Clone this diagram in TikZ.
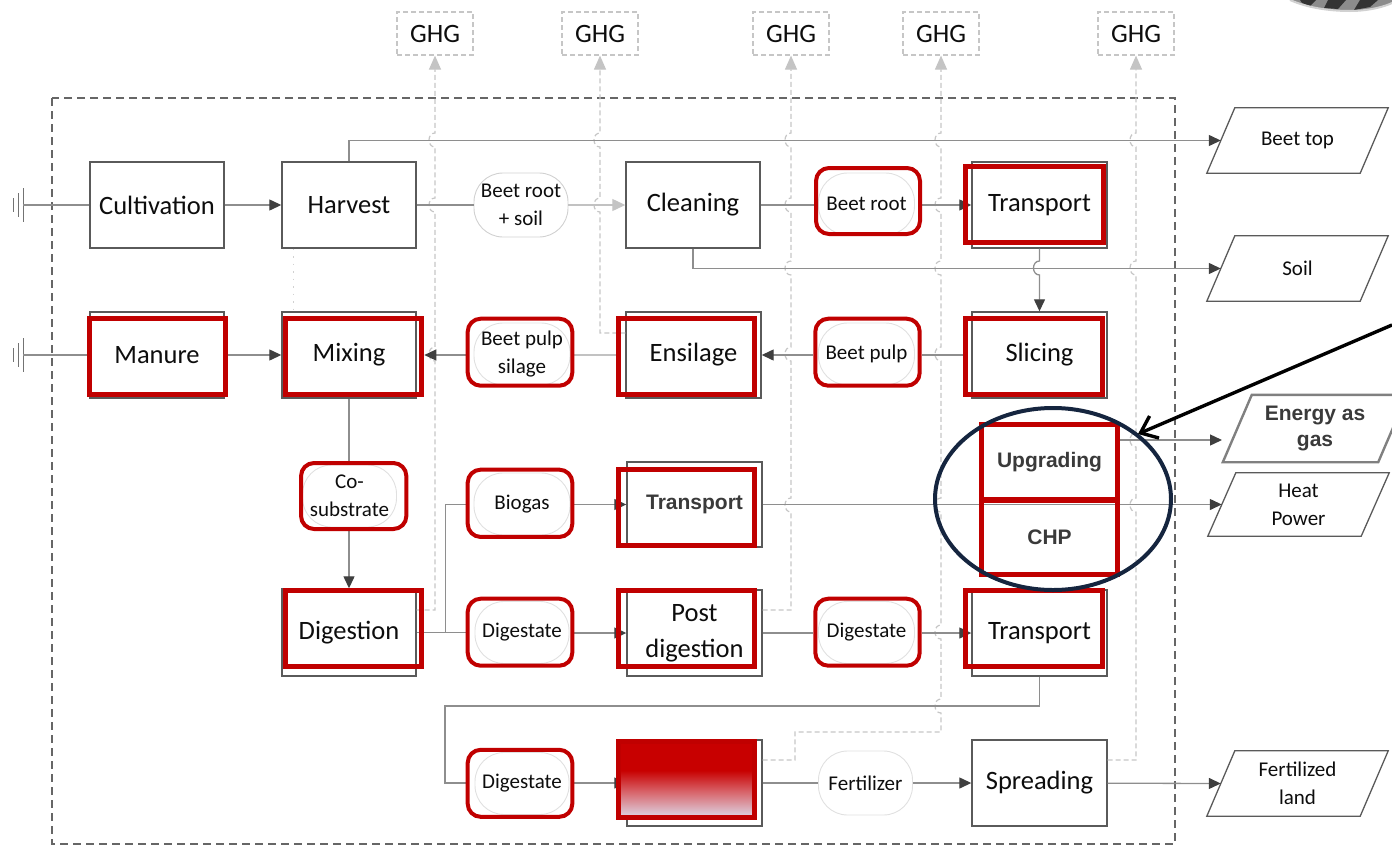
\documentclass[tikz,border=0pt]{standalone}
\usepackage{fontspec}
\setmainfont{Carlito}
\newfontfamily\arialfont{Liberation Sans}
\usetikzlibrary{arrows.meta,calc}

\definecolor{redframe}{HTML}{C00000}
\definecolor{boxline}{HTML}{5A5A5A}
\definecolor{conline}{HTML}{8E8E8E}
\definecolor{lightline}{HTML}{C2C2C2}
\definecolor{tipcol}{HTML}{3F3F3F}
\definecolor{ghgedge}{HTML}{C6C6C6}
\definecolor{ghgtip}{HTML}{C4C4C4}
\definecolor{pillline}{HTML}{E0E0E0}
\definecolor{navy}{HTML}{15253F}
\definecolor{labelgray}{HTML}{3A3A3A}
\definecolor{fadetop}{HTML}{C80000}
\definecolor{fademid}{HTML}{D8646A}
\definecolor{fadebot}{HTML}{DDD8E8}

\pgfdeclareverticalshading{redfade}{100bp}{color(0bp)=(fadebot); color(25bp)=(fadebot); color(42bp)=(fademid); color(56bp)=(fadetop); color(75bp)=(fadetop); color(100bp)=(fadetop)}

\pgfdeclarelayer{front}
\pgfsetlayers{main,front}

\newcommand\bigtxt{\fontsize{26.5}{36}\selectfont}
\newcommand\smalltxt{\fontsize{21}{28}\selectfont}
\newcommand\boldtxt{\arialfont\bfseries\fontsize{21}{26}\selectfont}

% outline of a slanted output box around a named node
\newcommand\slantoutline[3]{%
  \draw[#3] ([xshift=-#2]#1.south west) -- ([xshift=#2]#1.north west)
    -- ([xshift=#2]#1.north east) -- ([xshift=-#2]#1.south east) -- cycle;}

\tikzset{
  gbox/.style={draw=boxline, line width=1.4pt, fill=white, minimum width=134pt,
    minimum height=86pt, inner sep=0pt, font=\bigtxt, text=black!95, align=center},
  rbox/.style={draw=redframe, line width=5pt, inner sep=0pt},
  lpill/.style={draw=pillline, line width=0.9pt, rounded corners=29pt, minimum width=95pt,
    minimum height=62pt, inner sep=0pt, font=\smalltxt, text=black!95, align=center},
  rpill/.style={draw=redframe, line width=4pt, rounded corners=13pt, inner sep=0pt},
  ghgbox/.style={draw=ghgedge, dash pattern=on 5pt off 3pt, line width=1.2pt,
    minimum width=76pt, minimum height=43pt, inner sep=0pt, font=\bigtxt, text=black!95},
  ghgline/.style={draw=ghgedge, line width=1.2pt, dash pattern=on 5pt off 3pt,
    -{Triangle[length=14pt,width=12pt,color=ghgtip]}},
  slanted/.style={minimum width=153pt, minimum height=65pt, inner sep=0pt,
    font=\smalltxt, text=black!95, align=center},
  paraline/.style={draw=boxline, line width=1.3pt},
  conn/.style={draw=conline, line width=1.3pt},
  arr/.style={conn, -{Triangle[length=12pt,width=11pt,color=tipcol]}},
  lightarr/.style={draw=lightline, line width=1.2pt, -{Triangle[length=13pt,width=12pt,color=ghgtip]}},
  boundary/.style={draw=black!60, line width=1.4pt, dash pattern=on 8pt off 5pt},
  gndline/.style={draw=black!55, line width=1pt},
}

\begin{document}
\begin{tikzpicture}[x=1pt,y=-1pt]
\useasboundingbox (0,0) rectangle (1392,846);

% system boundary
\draw[boundary] (52,98) rectangle (1175,844);

% corner of a device poking in at the top right
\fill[black!45] (1290,0) .. controls (1308,8) and (1330,11) .. (1350,11)
  .. controls (1370,11) and (1386,6) .. (1392,3) -- (1392,0) -- cycle;
\fill[black!80] (1300,0) -- (1316,0) -- (1310,6) -- (1302,3) -- cycle;
\fill[black!80] (1328,0) -- (1346,0) -- (1338,9) -- (1324,8) -- cycle;
\fill[black!80] (1360,0) -- (1378,0) -- (1370,7) -- (1354,10) -- cycle;
\draw[black!18, line width=2pt] (1290,0) .. controls (1308,8) and (1330,11) .. (1350,11)
  .. controls (1370,11) and (1386,6) .. (1392,3);

% emission sinks
\node[ghgbox] (g1) at (435,33.5) {GHG};
\node[ghgbox] (g2) at (600,33.5) {GHG};
\node[ghgbox] (g3) at (791,33.5) {GHG};
\node[ghgbox] (g4) at (941,33.5) {GHG};
\node[ghgbox] (g5) at (1136,33.5) {GHG};

% process boxes
\node[gbox] (cult)    at (157,205)    {Cultivation};
\node[gbox] (harv)    at (349,205)    {Harvest};
\node[gbox] (clean)   at (693,205)    {Cleaning};
\node[gbox, minimum width=135pt] (trans1) at (1039.5,205) {Transport};
\node[gbox] (manure)  at (157,355)    {Manure};
\node[gbox] (mix)     at (349,355)    {Mixing};
\node[gbox, minimum width=135pt] (ensil) at (693.5,355) {Ensilage};
\node[gbox, minimum width=135pt] (slic)  at (1039.5,355) {Slicing};
\node[gbox, minimum width=135pt, minimum height=85pt, font=\boldtxt, text=labelgray] (trans2) at (694.5,504.5) {Transport};
\node[gbox, minimum height=87pt] (dig) at (349,632.5) {Digestion};
\node[gbox, minimum width=135pt] (postdig) at (694.5,633) {Post\\digestion};
\node[gbox, minimum width=135pt] (trans3)  at (1039.5,633) {Transport};
\node[gbox, minimum width=135pt] (gradbox) at (694.5,783) {};
\node[gbox, minimum width=135pt] (spread)  at (1039.5,783) {Spreading};

% flow items
\node[lpill, draw=black!18, minimum width=94pt, minimum height=64pt] (brsoil) at (521,205) {Beet root\\+ soil};
\node[lpill, minimum width=96pt] (beetroot) at (866.5,204) {Beet root};
\node[lpill, minimum width=96pt] (silage)   at (522,354) {Beet pulp\\silage};
\node[lpill, minimum width=96pt] (beetpulp) at (866.5,354) {Beet pulp};
\node[lpill, minimum width=94pt] (cosub)    at (349.5,496) {Co-\\substrate};
\node[lpill, minimum width=96pt] (biogas)   at (522,504) {Biogas};
\node[lpill, minimum width=94pt] (dig1)     at (522,632.5) {Digestate};
\node[lpill, minimum width=96pt] (dig2)     at (866.5,632.5) {Digestate};
\node[lpill, minimum width=94pt] (dig3)     at (522,783.5) {Digestate};
\node[lpill, draw=black!12, minimum width=94pt, minimum height=64pt] (fert) at (865.5,783) {Fertilizer};

% outputs
\node[slanted] (beettop) at (1297.5,140.5) {Beet top};
\node[slanted] (soil)    at (1297.5,268.5) {Soil};
\node[slanted, minimum width=155pt, minimum height=67pt, font=\boldtxt, text=labelgray] (energy) at (1315,428.5) {Energy as\\gas};
\node[slanted, minimum height=63pt] (heat) at (1298.5,504.5) {Heat\\Power};
\node[slanted] (fland)   at (1297.5,783.5) {Fertilized\\land};
\slantoutline{beettop}{14pt}{paraline}
\slantoutline{soil}{14pt}{paraline}
\slantoutline{heat}{14pt}{paraline}
\slantoutline{fland}{14pt}{paraline}
\slantoutline{energy}{14.5pt}{draw=black!50, line width=2.4pt}

% emission lines with jumps over the flow lines
\draw[ghgline] ([yshift=22.5pt]dig.east) -- (435,610)
  foreach \yy in {354,205,140}{ -- (435,\yy+7) .. controls (427,\yy+7) and (427,\yy-7) .. (435,\yy-7)}
  -- (g1.south);
\draw[ghgline] ([yshift=22pt]ensil.west) -- (600,333)
  foreach \yy in {205,140}{ -- (600,\yy+7) .. controls (592,\yy+7) and (592,\yy-7) .. (600,\yy-7)}
  -- (g2.south);
\draw[ghgline] ([yshift=23pt]postdig.east) -- (791,610)
  foreach \yy in {505,354,268,205,140}{ -- (791,\yy+7) .. controls (783,\yy+7) and (783,\yy-7) .. (791,\yy-7)}
  -- (g3.south);
\draw[ghgline] ([yshift=23pt]gradbox.east) -- (795,760) -- (795,732) -- (941,732)
  foreach \yy in {706,632,505,354,268,205,140}{ -- (941,\yy+7) .. controls (933,\yy+7) and (933,\yy-7) .. (941,\yy-7)}
  -- (g4.south);
\draw[ghgline] ([yshift=23pt]spread.east) -- (1136,760)
  foreach \yy in {505,440,268,140}{ -- (1136,\yy+7) .. controls (1128,\yy+7) and (1128,\yy-7) .. (1136,\yy-7)}
  -- (g5.south);
\draw[draw=black!18, line width=1pt, dash pattern=on 1.5pt off 6pt] ([xshift=-56pt]harv.south) -- ([xshift=-56pt]mix.north);

% earth symbols feeding the chains
\coordinate (gnd1) at (23,205);
\coordinate (gnd2) at (23,355);
\foreach \gy in {205,355}{
  \draw[gndline] (23,\gy-17) -- (23,\gy+17) (18,\gy-12) -- (18,\gy+12) (13,\gy-7) -- (13,\gy+7);
}

% red highlight frames
\begin{pgfonlayer}{front}
\node[rbox, minimum width=138pt, minimum height=76pt] (trans1R) at (1034.5,204.5) {};
\node[rbox, minimum width=136pt, minimum height=76.6pt] (manureR) at (157.2,356.5) {};
\node[rbox, minimum width=136pt, minimum height=76pt] (mixR) at (353.8,356.2) {};
\node[rbox, minimum width=136.3pt, minimum height=76pt] (ensilR) at (686.7,356.2) {};
\node[rbox, minimum width=136.7pt, minimum height=76pt] (slicR) at (1034.2,356.2) {};
\node[rbox, minimum width=136.3pt, minimum height=76pt] (trans2R) at (686.7,507.2) {};
\node[rbox, minimum width=136pt, minimum height=75pt, font=\boldtxt, text=labelgray] (upg) at (1049.5,461.7) {Upgrading};
\node[rbox, minimum width=136pt, minimum height=73.7pt, font=\boldtxt, text=labelgray] (chp) at (1049.5,537.3) {CHP};
\node[rbox, minimum width=136pt, minimum height=76.3pt] (digR) at (353.8,628.3) {};
\node[rbox, minimum width=136.3pt, minimum height=76.3pt] (postR) at (686.7,628.3) {};
\node[rbox, minimum width=136.7pt, minimum height=76.3pt] (trans3R) at (1034.2,628.3) {};
\node[rbox, shade, shading=redfade, minimum width=136.3pt, minimum height=76pt] (gradR) at (686.7,779.5) {};

\node[rpill, minimum width=104pt, minimum height=66pt] (beetrootR) at (868,201) {};
\node[rpill, minimum width=104.6pt, minimum height=67pt] (silageR) at (520,352.2) {};
\node[rpill, minimum width=104.4pt, minimum height=67pt] (beetpulpR) at (867.5,352.2) {};
\node[rpill, minimum width=105.3pt, minimum height=66pt] (cosubR) at (353.7,496) {};
\node[rpill, minimum width=104.6pt, minimum height=67.3pt] (biogasR) at (520,503.3) {};
\node[rpill, minimum width=104.6pt, minimum height=67pt] (dig1R) at (520,632.2) {};
\node[rpill, minimum width=104.4pt, minimum height=67pt] (dig2R) at (867.5,632.2) {};
\node[rpill, minimum width=104.6pt, minimum height=67pt] (dig3R) at (520,783.3) {};

% ring around the energy conversion and its pointer
\draw[navy, line width=4pt] (1053,499) ellipse [x radius=118, y radius=91];
\coordinate (callout) at (1392,325);
\coordinate (callouttip) at (1138,434);
\draw[black, line width=3.4pt, -{Straight Barb[length=15pt,width=24pt]}] (callout) -- (callouttip);
\end{pgfonlayer}

% flows, row 1
\draw[conn] (gnd1) -- (cult);
\draw[arr] (cult) -- (harv);
\draw[conn] (harv) -- (brsoil);
\draw[lightarr] (brsoil) -- (clean);
\draw[conn] (clean.east) -- (clean.east -| beetrootR.west);
\draw[arr] (beetrootR.east |- trans1.west) -- (trans1.west);
\draw[arr] (harv.north) |- (beettop.west);
\draw[arr] (clean.south) |- (soil.west);
\draw[arr] (trans1.south) -- (1039.5,261) .. controls (1031.5,261) and (1031.5,275) .. (1039.5,275) -- (slic.north);

% flows, row 2
\draw[conn] (gnd2) -- (gnd2 -| manureR.west);
\draw[arr] (manureR.east |- manure) -- (mix.west);
\draw[arr] (silageR.west |- mix) -- (mixR.east |- mix);
\draw[lightarr, -] (ensilR.west |- ensil) -- (silageR.east |- ensil);
\draw[arr] (beetpulpR.west |- ensil) -- (ensil.east);
\draw[conn] (slicR.west |- slic) -- (beetpulpR.east |- slic);

% flows, rows 3 and 4
\draw[conn] (mix.south) -- (mix.south |- cosubR.north);
\draw[arr] (mix.south |- cosubR.south) -- (dig.north);
\draw[conn] (dig.east) -- (dig.east -| dig1R.west);
\draw[conn] ([xshift=29pt]dig.east) |- (biogasR.west |- trans2);
\draw[arr] (biogasR.east |- trans2) -- (trans2.west);
\draw[arr] (trans2.east) -- (heat.west);
\coordinate (energyin) at (1222,440);
\draw[arr] (upg.east |- energyin) -- (energyin);
\draw[arr] (dig1R.east |- postdig) -- (postdig.west);
\draw[conn] (postdig.east) -- (postdig.east -| dig2R.west);
\draw[arr] (dig2R.east |- trans3) -- (trans3.west);

% flows, row 5
\draw[conn] (trans3.south) -- (1039.5,706) -- (445,706) -- (445,783) -- (dig3R.west |- gradbox);
\draw[arr] (dig3R.east |- gradbox) -- (gradbox.west);
\draw[conn] (gradbox.east) -- (fert);
\draw[arr] (fert) -- (spread);
\draw[arr] (spread) -- (fland.west);
\end{tikzpicture}
\end{document}
